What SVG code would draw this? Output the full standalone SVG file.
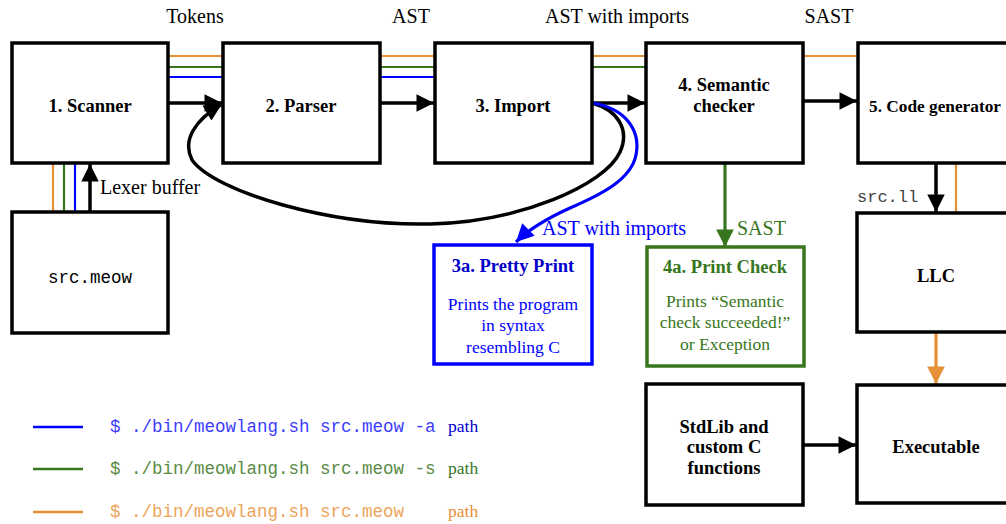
<svg xmlns="http://www.w3.org/2000/svg" width="1006" height="524" viewBox="0 0 1006 524">
<style>
.box{fill:#fff;stroke:#000;stroke-width:3.5}
.t{font-family:"Liberation Serif","Times New Roman",serif;font-size:20px;fill:#000}
.b{font-weight:bold;text-anchor:middle;font-size:18.5px}
.s{font-size:17.5px}
.m{font-family:"Liberation Mono","Courier New",monospace}
.or{stroke:#e69138;stroke-width:2.2;fill:none}
.gr{stroke:#38761d;stroke-width:2.2;fill:none}
.bl{stroke:#0000ff;stroke-width:2.2;fill:none}
.k{stroke:#000;stroke-width:3.5;fill:none}
</style>
<defs>
<marker id="ak" viewBox="0 0 10 10" refX="10" refY="5" markerWidth="5.5" markerHeight="5" markerUnits="strokeWidth" orient="auto"><path d="M0,0 L10,5 L0,10 z" fill="#000"/></marker>
<marker id="ag" viewBox="0 0 10 10" refX="10" refY="5" markerWidth="6" markerHeight="5.5" markerUnits="strokeWidth" orient="auto"><path d="M0,0 L10,5 L0,10 z" fill="#38761d"/></marker>
<marker id="ab" viewBox="0 0 10 10" refX="10" refY="5" markerWidth="6.5" markerHeight="5.5" markerUnits="strokeWidth" orient="auto"><path d="M0,0 L10,5 L0,10 z" fill="#0000ff"/></marker>
<marker id="ao" viewBox="0 0 10 10" refX="10" refY="5" markerWidth="6" markerHeight="5.5" markerUnits="strokeWidth" orient="auto"><path d="M0,0 L10,5 L0,10 z" fill="#e69138"/></marker>
</defs>

<g id="connectors">
<line class="or" x1="168" y1="56" x2="223" y2="56"/>
<line class="gr" x1="168" y1="67" x2="223" y2="67"/>
<line class="bl" x1="168" y1="77" x2="223" y2="77"/>
<line class="k" x1="168" y1="103" x2="222" y2="103" marker-end="url(#ak)"/>
<line class="or" x1="380" y1="56" x2="435" y2="56"/>
<line class="gr" x1="380" y1="67" x2="435" y2="67"/>
<line class="bl" x1="380" y1="77" x2="435" y2="77"/>
<line class="k" x1="380" y1="103" x2="434" y2="103" marker-end="url(#ak)"/>
<line class="or" x1="592" y1="56" x2="646" y2="56"/>
<line class="gr" x1="592" y1="67" x2="646" y2="67"/>
<line class="k" x1="592" y1="103" x2="645" y2="103" marker-end="url(#ak)"/>
<line class="or" x1="803" y1="56" x2="858" y2="56"/>
<line class="k" x1="803" y1="101" x2="857" y2="101" marker-end="url(#ak)"/>
<line class="or" x1="53" y1="163" x2="53" y2="212"/>
<line class="gr" x1="64" y1="163" x2="64" y2="212"/>
<line class="bl" x1="75" y1="163" x2="75" y2="212"/>
<line class="k" x1="90" y1="212" x2="90" y2="164" marker-end="url(#ak)"/>
<path class="k" d="M592,103 C618,110 630,130 620,152 C605,185 520,222 430,224 C330,226 215,192 192,160 C182,140 195,120 222,104" marker-end="url(#ak)"/>
<path class="bl" d="M592,103 C625,108 641,130 636,155 C631,180 600,195 570,208 C548,218 530,228 516,242" style="stroke-width:3.2" marker-end="url(#ab)"/>
<line class="gr" x1="725" y1="163" x2="725" y2="247" style="stroke-width:3.2" marker-end="url(#ag)"/>
<line class="k" x1="936" y1="163" x2="936" y2="212" marker-end="url(#ak)"/>
<line class="or" x1="956" y1="163" x2="956" y2="213"/>
<line class="or" x1="936" y1="332" x2="936" y2="384" style="stroke-width:3.2" marker-end="url(#ao)"/>
<line class="k" x1="803" y1="445" x2="856" y2="445" marker-end="url(#ak)"/>
</g>

<g id="labels">
<text class="t" x="195" y="23" text-anchor="middle">Tokens</text>
<text class="t" x="411" y="23" text-anchor="middle">AST</text>
<text class="t" x="617" y="23" text-anchor="middle">AST with imports</text>
<text class="t" x="829" y="23" text-anchor="middle">SAST</text>
<text class="t" x="100" y="194">Lexer buffer</text>
<text class="t" x="542" y="235" style="fill:#0000ff">AST with imports</text>
<text class="t" x="737" y="235" style="fill:#38761d">SAST</text>
<text class="m" x="857" y="202" font-size="17" fill="#444">src.ll</text>
</g>

<g id="scanner"><rect class="box" x="12" y="43" width="156" height="120"/><text class="t b" x="90" y="112">1. Scanner</text></g>
<g id="parser"><rect class="box" x="223" y="43" width="157" height="120"/><text class="t b" x="301" y="112">2. Parser</text></g>
<g id="import"><rect class="box" x="435" y="43" width="157" height="120"/><text class="t b" x="513" y="112">3. Import</text></g>
<g id="semantic"><rect class="box" x="646" y="43" width="157" height="120"/><text class="t b" x="724" y="91">4. Semantic</text><text class="t b" x="724" y="112">checker</text></g>
<g id="codegen"><rect class="box" x="858" y="43" width="160" height="120"/><text class="t b" x="869" y="112" style="text-anchor:start;font-size:17.5px" textLength="132" lengthAdjust="spacingAndGlyphs">5. Code generator</text></g>
<g id="srcmeow"><rect class="box" x="12" y="212" width="156" height="121"/><text class="m" x="90" y="283" font-size="17.5" text-anchor="middle">src.meow</text></g>
<g id="prettyprint"><rect x="434" y="245" width="158" height="119" fill="#fff" stroke="#0000ff" stroke-width="3.5"/>
<text class="t b" x="513" y="272" style="fill:#0000cc">3a. Pretty Print</text>
<g class="t s" style="fill:#0000ff" text-anchor="middle"><text x="513" y="310">Prints the program</text><text x="513" y="331">in syntax</text><text x="513" y="353">resembling C</text></g></g>
<g id="printcheck"><rect x="647" y="247" width="157" height="119" fill="#fff" stroke="#38761d" stroke-width="3.5"/>
<text class="t b" x="725" y="273" style="fill:#38761d">4a. Print Check</text>
<g class="t s" style="fill:#38761d" text-anchor="middle"><text x="725" y="307">Prints “Semantic</text><text x="725" y="328">check succeeded!”</text><text x="725" y="350">or Exception</text></g></g>
<g id="llc"><rect class="box" x="857" y="213" width="160" height="119"/><text class="t b" x="936" y="282">LLC</text></g>
<g id="stdlib"><rect class="box" x="646" y="384" width="157" height="121"/><text class="t b" x="724" y="433">StdLib and</text><text class="t b" x="724" y="453">custom C</text><text class="t b" x="724" y="474">functions</text></g>
<g id="executable"><rect class="box" x="857" y="385" width="160" height="118"/><text class="t b" x="936" y="453">Executable</text></g>

<g id="legend">
<line x1="33" y1="427" x2="83" y2="427" stroke="#0000ff" stroke-width="2.5"/>
<text class="m" x="110" y="432" font-size="17.5" fill="#3c3cff">$ ./bin/meowlang.sh src.meow -a</text>
<text class="t s" x="448" y="432" style="fill:#0000cc">path</text>
<line x1="33" y1="469" x2="83" y2="469" stroke="#38761d" stroke-width="2.5"/>
<text class="m" x="110" y="474" font-size="17.5" fill="#5a8a45">$ ./bin/meowlang.sh src.meow -s</text>
<text class="t s" x="448" y="474" style="fill:#38761d">path</text>
<line x1="33" y1="512" x2="83" y2="512" stroke="#e69138" stroke-width="2.5"/>
<text class="m" x="110" y="517" font-size="17.5" fill="#eda45a">$ ./bin/meowlang.sh src.meow</text>
<text class="t s" x="448" y="517" style="fill:#e69138">path</text>
</g>
</svg>
